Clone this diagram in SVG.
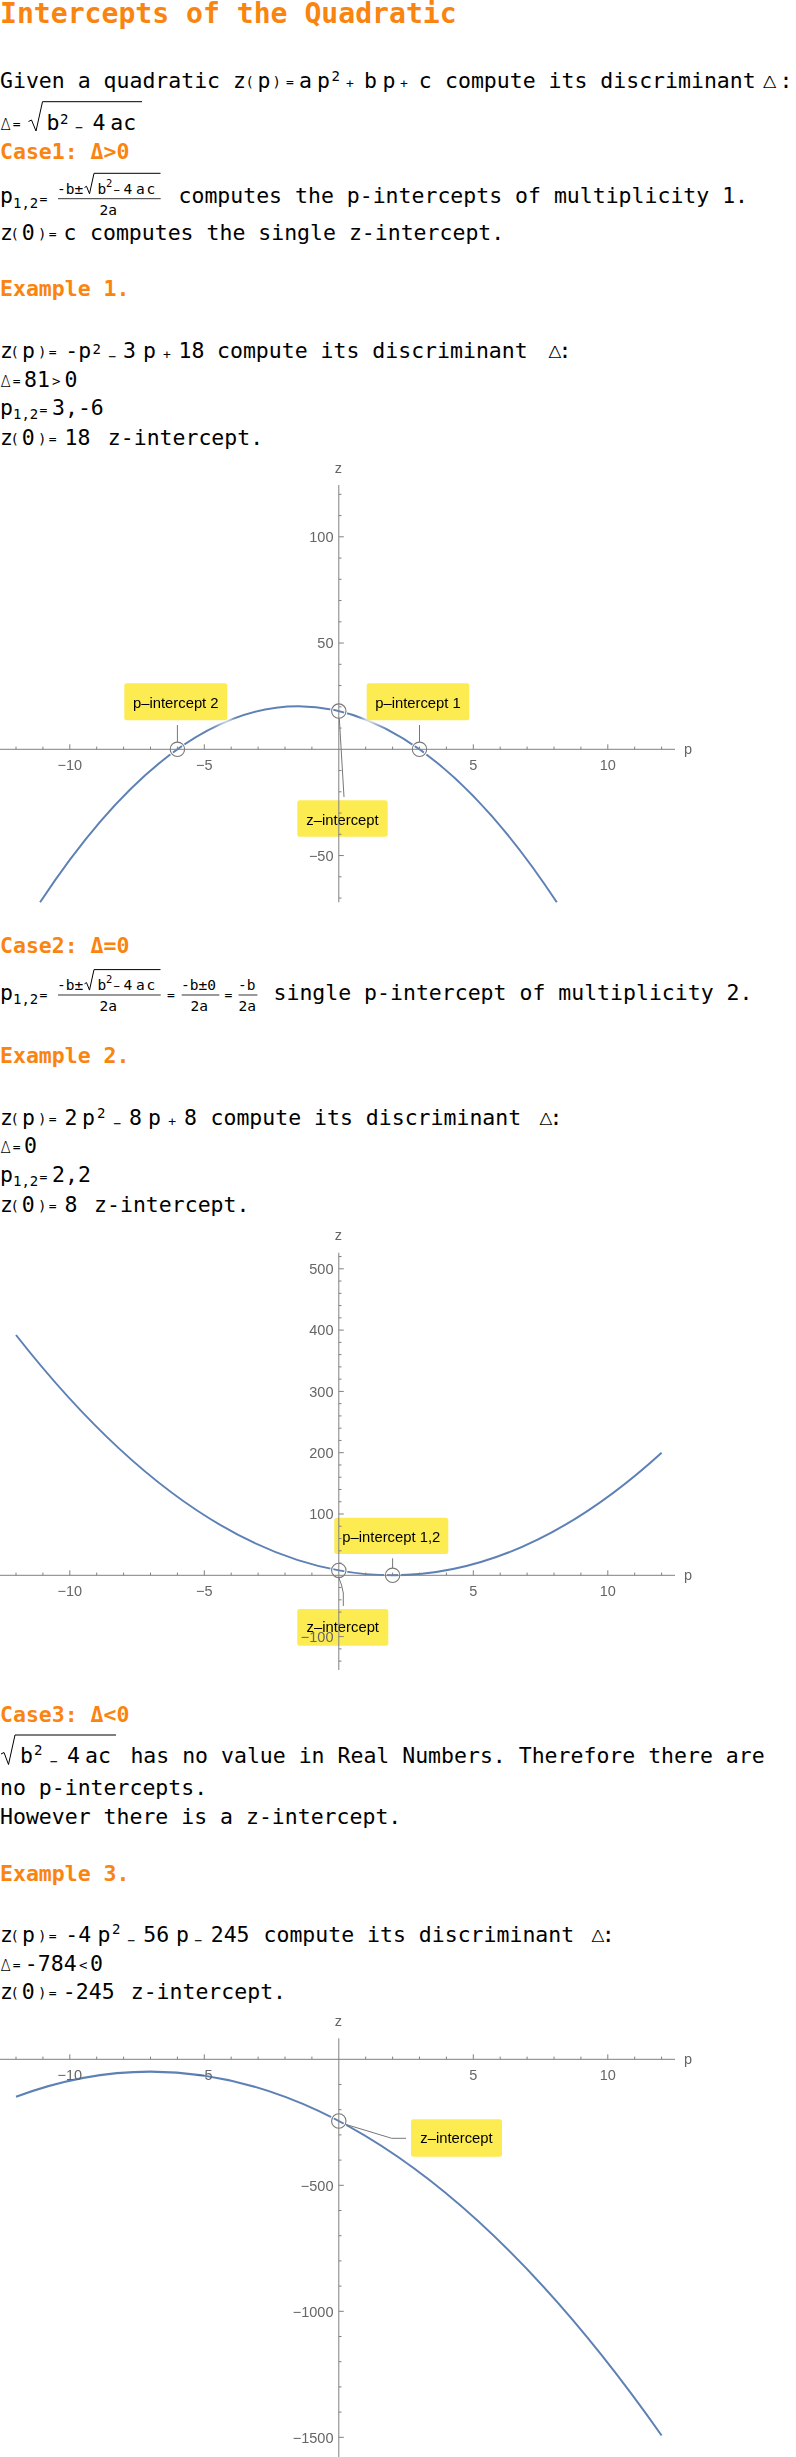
<svg xmlns="http://www.w3.org/2000/svg" width="796" height="2457" viewBox="0 0 796 2457">
<defs>
<style>
text{fill:#000}
.m{font-family:"DejaVu Sans Mono",monospace;font-size:21.5px}
.o{font-family:"DejaVu Sans Mono",monospace;font-size:13px}
.pa{font-family:"DejaVu Sans Mono",monospace;font-size:14px}
.sp{font-family:"DejaVu Sans Mono",monospace;font-size:14px}
.f{font-family:"DejaVu Sans Mono",monospace;font-size:14.5px}
.fs{font-family:"DejaVu Sans Mono",monospace;font-size:10.5px}
.d{font-family:"DejaVu Sans",sans-serif;font-size:15px;font-weight:200}
.h{font-family:"DejaVu Sans Mono",monospace;font-size:21.5px;font-weight:bold;fill:#FA8410}
.t{font-family:"DejaVu Sans Mono",monospace;font-size:28.1px;font-weight:bold;fill:#FA8410}
.rt{stroke:#000;stroke-width:1;fill:none}
.bar{stroke:#000;stroke-width:0.8;fill:none}
.ax{stroke:#808080;stroke-width:1;fill:none}
.tk{font-family:"Liberation Sans",Arial,sans-serif;font-size:14.5px;fill:#666}
.tm{text-anchor:middle}
.te{text-anchor:end}
.cv{stroke:#5E81B5;stroke-width:2;fill:none}
.hl{fill:#fff;opacity:0.9}
.cb{fill:#FDEB52}
.cl{font-family:"Liberation Sans",Arial,sans-serif;font-size:14.8px;fill:#000;text-anchor:middle}
.ld{stroke:#777;stroke-width:1;fill:none}
.cw{stroke:#fff;stroke-width:3;fill:none}
.cc{stroke:#777;stroke-width:1.1;fill:none}
</style>
<filter id="halo" x="-30%" y="-40%" width="160%" height="180%"><feGaussianBlur stdDeviation="3"/></filter>
</defs>
<rect width="796" height="2457" fill="#fff"/>

<g id="title"><text class="t" x="0" y="23.3">Intercepts of the Quadratic</text></g>

<g id="intro">
<text class="m" x="0" y="88">Given a quadratic</text>
<text class="m" x="233" y="88">z</text><text class="pa" x="245.5" y="87">(</text><text class="m" x="257.5" y="88">p</text><text class="pa" x="272.5" y="87">)</text><text class="o" x="286" y="86">=</text>
<text class="m" x="299" y="88">a</text><text class="m" x="317" y="88">p</text><text class="sp" x="331.5" y="81">2</text><text class="o" x="346" y="88">+</text>
<text class="m" x="364" y="88">b</text><text class="m" x="382.5" y="88">p</text><text class="o" x="400" y="88">+</text><text class="m" x="418.8" y="88">c</text>
<text class="m" x="445" y="88">compute its discriminant</text><text class="d" transform="translate(762.5,88) scale(1.4,1)">Δ</text><text class="m" x="779.5" y="88">:</text>
</g>

<g id="delta-def">
<text class="d" x="0.5" y="130">Δ</text><text class="o" x="12.8" y="128">=</text>
<path class="rt" d="M28.5,121.5l3,-1.5l4.5,11l6.5,-29.3H142"/>
<text class="m" x="46.5" y="130">b</text><text class="sp" x="60" y="124.2">2</text><text class="o" x="75.2" y="132">−</text>
<text class="m" x="92.5" y="130">4</text><text class="m" x="110.2" y="130">ac</text>
</g>

<g id="case1">
<text class="h" x="0" y="159.3">Case1: Δ&gt;0</text>
<text class="m" x="0" y="203.3">p</text><text class="sp" x="13" y="207.5">1,2</text><text class="o" x="39.5" y="202.5">=</text>
<text class="f" x="57" y="194">-b±</text>
<path class="rt" d="M84.5,187.5l2,-1.2l3,7.5l4.5,-20.5H160.5"/>
<text class="f" x="97.5" y="194">b</text><text class="fs" x="106" y="186.5">2</text><text class="fs" x="113.5" y="194">−</text>
<text class="f" x="123.5" y="194">4</text><text class="f" x="136" y="194">a</text><text class="f" x="146.5" y="194">c</text>
<path class="bar" d="M58,198.7H160.7"/>
<text class="f" x="99.5" y="215">2a</text>
<text class="m" x="178.5" y="203.3">computes the p-intercepts of multiplicity 1.</text>
<text class="m" x="0" y="240">z</text><text class="pa" x="10.5" y="239">(</text><text class="m" x="21.8" y="240">0</text><text class="pa" x="37.9" y="239">)</text><text class="o" x="48.7" y="238">=</text>
<text class="m" x="63.5" y="240">c</text><text class="m" x="90" y="240">computes the single z-intercept.</text>
</g>

<g id="example1">
<text class="h" x="0" y="296">Example 1.</text>
<text class="m" x="0" y="358">z</text><text class="pa" x="10.5" y="357">(</text><text class="m" x="22" y="358">p</text><text class="pa" x="37.9" y="357">)</text><text class="o" x="48.7" y="356">=</text>
<text class="m" x="65.3" y="358">-p</text><text class="sp" x="92.5" y="353.5">2</text><text class="o" x="108.5" y="361">−</text>
<text class="m" x="123" y="358">3</text><text class="m" x="143" y="358">p</text><text class="o" x="163" y="358.5">+</text><text class="m" x="178.5" y="358">18</text>
<text class="m" x="217" y="358">compute its discriminant</text><text class="d" transform="translate(548,358) scale(1.35,1)">Δ</text><text class="m" x="558.6" y="358">:</text>
<text class="d" x="0.5" y="387">Δ</text><text class="o" x="12.8" y="385">=</text><text class="m" x="24" y="387">81</text><text class="sp" x="52" y="386">&gt;</text><text class="m" x="64.5" y="387">0</text>
<text class="m" x="0" y="415">p</text><text class="sp" x="13" y="419.2">1,2</text><text class="o" x="39.5" y="414">=</text><text class="m" x="52" y="415">3,-6</text>
<text class="m" x="0" y="445">z</text><text class="pa" x="10.5" y="444">(</text><text class="m" x="21.8" y="445">0</text><text class="pa" x="37.9" y="444">)</text><text class="o" x="48.7" y="443">=</text>
<text class="m" x="64.5" y="445">18</text><text class="m" x="107.8" y="445">z-intercept.</text>
</g>

<g id="case2">
<text class="h" x="0" y="953.3">Case2: Δ=0</text>
<g transform="translate(0,796.3)">
<text class="m" x="0" y="203.3">p</text><text class="sp" x="13" y="207.5">1,2</text><text class="o" x="39.5" y="202.5">=</text>
<text class="f" x="57" y="194">-b±</text>
<path class="rt" d="M84.5,187.5l2,-1.2l3,7.5l4.5,-20.5H160.5"/>
<text class="f" x="97.5" y="194">b</text><text class="fs" x="106" y="186.5">2</text><text class="fs" x="113.5" y="194">−</text>
<text class="f" x="123.5" y="194">4</text><text class="f" x="136" y="194">a</text><text class="f" x="146.5" y="194">c</text>
<path class="bar" d="M58,198.7H160.7"/>
<text class="f" x="99.5" y="215">2a</text>
<text class="o" x="167" y="202.5">=</text>
<text class="f" x="181" y="194">-b±0</text><path class="bar" d="M181.7,198.7H219.3"/><text class="f" x="190.5" y="215">2a</text>
<text class="o" x="224.5" y="202.5">=</text>
<text class="f" x="238" y="194">-b</text><path class="bar" d="M238.6,198.7H257.4"/><text class="f" x="238.5" y="215">2a</text>
<text class="m" x="273.5" y="203.3">single p-intercept of multiplicity 2.</text>
</g>
</g>

<g id="example2">
<text class="h" x="0" y="1063.3">Example 2.</text>
<text class="m" x="0" y="1125">z</text><text class="pa" x="10.5" y="1124">(</text><text class="m" x="22" y="1125">p</text><text class="pa" x="37.9" y="1124">)</text><text class="o" x="48.7" y="1123">=</text>
<text class="m" x="64.5" y="1125">2</text><text class="m" x="82" y="1125">p</text><text class="sp" x="97" y="1117.5">2</text><text class="o" x="113.5" y="1128">−</text>
<text class="m" x="129" y="1125">8</text><text class="m" x="148" y="1125">p</text><text class="o" x="168.3" y="1125.5">+</text><text class="m" x="184" y="1125">8</text>
<text class="m" x="210.5" y="1125">compute its discriminant</text><text class="d" transform="translate(539,1125) scale(1.35,1)">Δ</text><text class="m" x="549.4" y="1125">:</text>
<text class="d" x="0.5" y="1153">Δ</text><text class="o" x="12.8" y="1151">=</text><text class="m" x="24" y="1153">0</text>
<text class="m" x="0" y="1182">p</text><text class="sp" x="13" y="1186.2">1,2</text><text class="o" x="39.5" y="1181">=</text><text class="m" x="52" y="1182">2,2</text>
<text class="m" x="0" y="1212">z</text><text class="pa" x="10.5" y="1211">(</text><text class="m" x="21.8" y="1212">0</text><text class="pa" x="37.9" y="1211">)</text><text class="o" x="48.7" y="1210">=</text>
<text class="m" x="64.5" y="1212">8</text><text class="m" x="94.1" y="1212">z-intercept.</text>
</g>

<g id="case3">
<text class="h" x="0" y="1721.7">Case3: Δ&lt;0</text>
<path class="rt" d="M1,1754l3,-1.5l4.5,12l6.5,-29.5H116"/>
<text class="m" x="20" y="1763.3">b</text><text class="sp" x="34" y="1755.3">2</text><text class="o" x="50" y="1766">−</text>
<text class="m" x="67" y="1763.3">4</text><text class="m" x="85" y="1763.3">ac</text>
<text class="m" x="130.4" y="1763.3">has no value in Real Numbers. Therefore there are</text>
<text class="m" x="0" y="1795">no p-intercepts.</text>
<text class="m" x="0" y="1824">However there is a z-intercept.</text>
</g>

<g id="example3">
<text class="h" x="0" y="1880.7">Example 3.</text>
<text class="m" x="0" y="1942.3">z</text><text class="pa" x="10.5" y="1941.3">(</text><text class="m" x="22" y="1942.3">p</text><text class="pa" x="37.9" y="1941.3">)</text><text class="o" x="48.7" y="1940.3">=</text>
<text class="m" x="65.3" y="1942.3">-4</text><text class="m" x="97.5" y="1942.3">p</text><text class="sp" x="112" y="1933.5">2</text><text class="o" x="127.5" y="1945.3">−</text>
<text class="m" x="143.3" y="1942.3">56</text><text class="m" x="176" y="1942.3">p</text><text class="o" x="194.5" y="1945.3">−</text><text class="m" x="210.7" y="1942.3">245</text>
<text class="m" x="263.5" y="1942.3">compute its discriminant</text><text class="d" transform="translate(591,1942.3) scale(1.35,1)">Δ</text><text class="m" x="601.7" y="1942.3">:</text>
<text class="d" x="0.5" y="1970.7">Δ</text><text class="o" x="12.8" y="1968.7">=</text><text class="m" x="24.8" y="1970.7">-784</text><text class="sp" x="79" y="1969.7">&lt;</text><text class="m" x="90" y="1970.7">0</text>
<text class="m" x="0" y="1999">z</text><text class="pa" x="10.5" y="1998">(</text><text class="m" x="21.8" y="1999">0</text><text class="pa" x="37.9" y="1998">)</text><text class="o" x="48.7" y="1997">=</text>
<text class="m" x="62.8" y="1999">-245</text><text class="m" x="130.7" y="1999">z-intercept.</text>
</g>

<g id="curves">
<path class="cv" d="M40.1,902.3Q298.45,510.2 556.8,902.3"/>
<path class="cv" d="M16,1335Q338.8,1746.9 661.6,1452.7"/>
<path class="cv" d="M16,2096.8Q338.8,1975.9 661.6,2435.5"/>
</g>

<g id="halos" filter="url(#halo)">
<rect class="hl" x="121" y="680" width="110" height="44" rx="3"/>
<rect class="hl" x="363.5" y="680" width="109" height="44" rx="3"/>
<rect class="hl" x="294" y="797" width="97" height="43" rx="3"/>
<rect class="hl" x="331" y="1514.5" width="120.5" height="43" rx="3"/>
<rect class="hl" x="294" y="1606" width="97.5" height="43" rx="3"/>
<rect class="hl" x="408" y="2116" width="97" height="44" rx="3"/>
</g>

<g id="connectors">
<circle class="cw" cx="177.4" cy="749.3" r="7.2"/><circle class="cc" cx="177.4" cy="749.3" r="7.2"/>
<circle class="cw" cx="419.5" cy="749.3" r="7.2"/><circle class="cc" cx="419.5" cy="749.3" r="7.2"/>
<circle class="cw" cx="338.8" cy="711.1" r="7.2"/><circle class="cc" cx="338.8" cy="711.1" r="7.2"/>
<path class="ld" d="M177.4,725V742"/>
<path class="ld" d="M419.5,725V742"/>
<path class="ld" d="M339.3,718.3L344,797"/>
<circle class="cw" cx="338.8" cy="1570.4" r="7.2"/><circle class="cc" cx="338.8" cy="1570.4" r="7.2"/>
<circle class="cw" cx="392.6" cy="1575.3" r="7.2"/><circle class="cc" cx="392.6" cy="1575.3" r="7.2"/>
<path class="ld" d="M392.6,1558.3V1568"/>
<path class="ld" d="M338.8,1577.6L341.5,1585L343.3,1593V1606"/>
<circle class="cw" cx="338.8" cy="2121" r="7.2"/><circle class="cc" cx="338.8" cy="2121" r="7.2"/>
<path class="ld" d="M345.5,2124.3L391.7,2138.3H406"/>
</g>

<g id="label-p-intercept-2"><rect class="cb" x="124.3" y="683.3" width="103" height="37" rx="2.5"/><text class="cl" x="175.8" y="708.3">p–intercept 2</text></g>
<g id="label-p-intercept-1"><rect class="cb" x="366.7" y="683.3" width="102.6" height="37" rx="2.5"/><text class="cl" x="418" y="708.3">p–intercept 1</text></g>
<g id="label-z-intercept-1"><rect class="cb" x="297.3" y="800.3" width="90.4" height="36.4" rx="2.5"/><text class="cl" x="342.5" y="825">z–intercept</text></g>
<g id="label-p-intercept-12"><rect class="cb" x="334.3" y="1517.7" width="114" height="36.3" rx="2.5"/><text class="cl" x="391.3" y="1542.3">p–intercept 1,2</text></g>
<g id="label-z-intercept-2"><rect class="cb" x="297.3" y="1609" width="91" height="36.7" rx="2.5"/><text class="cl" x="342.8" y="1632.3">z–intercept</text></g>
<g id="label-z-intercept-3"><rect class="cb" x="411" y="2119.3" width="91" height="37.4" rx="2.5"/><text class="cl" x="456.5" y="2143.3">z–intercept</text></g>

<g id="plot1-axes">
<g transform="translate(0,749.3)">
<path class="ax" d="M0,0H675M16,0v-2.7M42.9,0v-2.7M96.7,0v-2.7M123.6,0v-2.7M150.5,0v-2.7M177.4,0v-2.7M231.2,0v-2.7M258.1,0v-2.7M285,0v-2.7M311.9,0v-2.7M365.7,0v-2.7M392.6,0v-2.7M419.5,0v-2.7M446.4,0v-2.7M500.2,0v-2.7M527.1,0v-2.7M554,0v-2.7M580.9,0v-2.7M634.7,0v-2.7M661.6,0v-2.7M69.8,0v-5M204.3,0v-5M473.3,0v-5M607.8,0v-5"/>
<text class="tk tm" x="69.8" y="20.5">−10</text><text class="tk tm" x="204.3" y="20.5">−5</text><text class="tk tm" x="473.3" y="20.5">5</text><text class="tk tm" x="607.8" y="20.5">10</text>
<text class="tk" x="684" y="5">p</text>
</g>
<path class="ax" d="M338.8,485V902.3M338.8,494.3h2.7M338.8,515.6h2.7M338.8,558.05h2.7M338.8,579.3h2.7M338.8,600.55h2.7M338.8,621.8h2.7M338.8,664.3h2.7M338.8,685.55h2.7M338.8,706.8h2.7M338.8,728.05h2.7M338.8,770.55h2.7M338.8,791.8h2.7M338.8,813.05h2.7M338.8,834.3h2.7M338.8,876.8h2.7M338.8,898.05h2.7M338.8,536.8h5M338.8,643.05h5M338.8,855.55h5"/>
<text class="tk tm" x="338.3" y="472.7">z</text>
<text class="tk te" x="333.5" y="542">100</text><text class="tk te" x="333.5" y="648.2">50</text><text class="tk te" x="333.5" y="860.7">−50</text>
</g>

<g id="plot2-axes">
<g transform="translate(0,1575.3)">
<path class="ax" d="M0,0H675M16,0v-2.7M42.9,0v-2.7M96.7,0v-2.7M123.6,0v-2.7M150.5,0v-2.7M177.4,0v-2.7M231.2,0v-2.7M258.1,0v-2.7M285,0v-2.7M311.9,0v-2.7M365.7,0v-2.7M392.6,0v-2.7M419.5,0v-2.7M446.4,0v-2.7M500.2,0v-2.7M527.1,0v-2.7M554,0v-2.7M580.9,0v-2.7M634.7,0v-2.7M661.6,0v-2.7M69.8,0v-5M204.3,0v-5M473.3,0v-5M607.8,0v-5"/>
<text class="tk tm" x="69.8" y="20.5">−10</text><text class="tk tm" x="204.3" y="20.5">−5</text><text class="tk tm" x="473.3" y="20.5">5</text><text class="tk tm" x="607.8" y="20.5">10</text>
<text class="tk" x="684" y="5">p</text>
</g>
<path class="ax" d="M338.8,1252.7V1670M338.8,1256.54h2.7M338.8,1281.06h2.7M338.8,1293.32h2.7M338.8,1305.58h2.7M338.8,1317.84h2.7M338.8,1342.36h2.7M338.8,1354.62h2.7M338.8,1366.88h2.7M338.8,1379.14h2.7M338.8,1403.66h2.7M338.8,1415.92h2.7M338.8,1428.18h2.7M338.8,1440.44h2.7M338.8,1464.96h2.7M338.8,1477.22h2.7M338.8,1489.48h2.7M338.8,1501.74h2.7M338.8,1526.26h2.7M338.8,1538.52h2.7M338.8,1550.78h2.7M338.8,1563.04h2.7M338.8,1587.56h2.7M338.8,1599.82h2.7M338.8,1612.08h2.7M338.8,1624.34h2.7M338.8,1648.86h2.7M338.8,1661.12h2.7M338.8,1268.8h5M338.8,1330.1h5M338.8,1391.4h5M338.8,1452.7h5M338.8,1514h5M338.8,1636.6h5"/>
<text class="tk tm" x="338.3" y="1240.4">z</text>
<text class="tk te" x="333.5" y="1274">500</text><text class="tk te" x="333.5" y="1335.3">400</text><text class="tk te" x="333.5" y="1396.6">300</text><text class="tk te" x="333.5" y="1457.9">200</text><text class="tk te" x="333.5" y="1519.2">100</text><text class="tk te" x="333.5" y="1641.8">−100</text>
</g>

<g id="plot3-axes">
<g transform="translate(0,2059.3)">
<path class="ax" d="M0,0H675M16,0v-2.7M42.9,0v-2.7M96.7,0v-2.7M123.6,0v-2.7M150.5,0v-2.7M177.4,0v-2.7M231.2,0v-2.7M258.1,0v-2.7M285,0v-2.7M311.9,0v-2.7M365.7,0v-2.7M392.6,0v-2.7M419.5,0v-2.7M446.4,0v-2.7M500.2,0v-2.7M527.1,0v-2.7M554,0v-2.7M580.9,0v-2.7M634.7,0v-2.7M661.6,0v-2.7M69.8,0v-5M204.3,0v-5M473.3,0v-5M607.8,0v-5"/>
<text class="tk tm" x="69.8" y="20.5">−10</text><text class="tk tm" x="204.3" y="20.5">−5</text><text class="tk tm" x="473.3" y="20.5">5</text><text class="tk tm" x="607.8" y="20.5">10</text>
<text class="tk" x="684" y="5">p</text>
</g>
<path class="ax" d="M338.8,2038.3V2457M338.8,2084.5h2.7M338.8,2109.7h2.7M338.8,2134.9h2.7M338.8,2160.1h2.7M338.8,2210.5h2.7M338.8,2235.7h2.7M338.8,2260.9h2.7M338.8,2286.1h2.7M338.8,2336.5h2.7M338.8,2361.7h2.7M338.8,2386.9h2.7M338.8,2412.1h2.7M338.8,2185.3h5M338.8,2311.3h5M338.8,2437.3h5"/>
<text class="tk tm" x="338.3" y="2026">z</text>
<text class="tk te" x="333.5" y="2190.5">−500</text><text class="tk te" x="333.5" y="2316.5">−1000</text><text class="tk te" x="333.5" y="2442.5">−1500</text>
</g>
</svg>
